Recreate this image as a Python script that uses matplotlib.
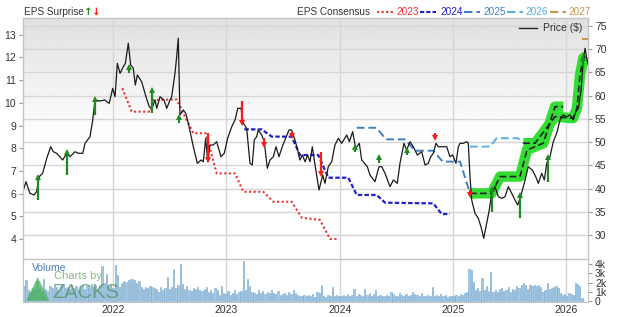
import numpy as np
import matplotlib
matplotlib.use("Agg")
import matplotlib.pyplot as plt
from matplotlib.lines import Line2D

plt.rcParams['font.family'] = ['Liberation Sans', 'DejaVu Sans']

# --- DATA (dates as decimal years) ---
price_dates = [2021.214, 2021.232, 2021.267, 2021.303, 2021.326, 2021.349, 2021.379, 2021.415,
               2021.450, 2021.473, 2021.503, 2021.556, 2021.591, 2021.620, 2021.665, 2021.694,
               2021.733, 2021.753, 2021.797, 2021.821, 2021.841, 2021.885, 2021.929, 2021.950,
               2021.967, 2021.997, 2022.018, 2022.038, 2022.062, 2022.091, 2022.109, 2022.135,
               2022.156, 2022.179, 2022.197, 2022.215, 2022.253, 2022.291, 2022.320, 2022.344,
               2022.371, 2022.386, 2022.415, 2022.450, 2022.474, 2022.503, 2022.518, 2022.547,
               2022.562, 2022.576, 2022.591, 2022.620, 2022.642, 2022.665, 2022.709, 2022.744,
               2022.777, 2022.797, 2022.818, 2022.836, 2022.856, 2022.885, 2022.915, 2022.953,
               2022.982, 2023.012, 2023.048, 2023.077, 2023.101, 2023.130, 2023.150, 2023.180,
               2023.209, 2023.229, 2023.247, 2023.268, 2023.282, 2023.312, 2023.335, 2023.362,
               2023.386, 2023.415, 2023.439, 2023.465, 2023.494, 2023.524, 2023.553, 2023.577,
               2023.606, 2023.630, 2023.650, 2023.671, 2023.695, 2023.718, 2023.739, 2023.759,
               2023.783, 2023.818, 2023.851, 2023.871, 2023.900, 2023.930, 2023.959, 2023.989,
               2024.018, 2024.063, 2024.086, 2024.115, 2024.142, 2024.174, 2024.195, 2024.245,
               2024.268, 2024.312, 2024.348, 2024.372, 2024.401, 2024.445, 2024.474, 2024.509,
               2024.533, 2024.568, 2024.592, 2024.621, 2024.651, 2024.686, 2024.725, 2024.754,
               2024.783, 2024.804, 2024.827, 2024.851, 2024.871, 2024.945, 2024.974, 2024.998,
               2025.027, 2025.048, 2025.063, 2025.092, 2025.122, 2025.136, 2025.151, 2025.166,
               2025.195, 2025.224, 2025.248, 2025.272, 2025.298, 2025.321, 2025.342, 2025.371,
               2025.401, 2025.431, 2025.460, 2025.489, 2025.519, 2025.548, 2025.572, 2025.601,
               2025.630, 2025.665, 2025.701, 2025.731, 2025.754, 2025.784, 2025.807, 2025.828,
               2025.857, 2025.886, 2025.916, 2025.945, 2025.974, 2026.004, 2026.033, 2026.063,
               2026.084, 2026.107, 2026.131, 2026.151, 2026.166, 2026.181, 2026.195]
price_vals = [40.08, 41.50, 39.01, 38.65, 39.36, 42.58, 43.30, 46.52,
              49.01, 47.94, 47.60, 46.16, 47.60, 46.87, 47.94, 47.60,
              47.60, 49.74, 51.16, 54.74, 59.04, 58.82, 59.04, 58.54,
              58.33, 61.54, 59.74, 66.91, 64.76, 66.18, 66.91, 71.20,
              66.55, 65.84, 62.25, 64.40, 62.96, 59.74, 57.60, 57.25,
              59.04, 57.25, 59.74, 59.04, 57.25, 59.04, 59.74, 64.76,
              68.33, 72.28, 55.82, 56.89, 56.18, 54.03, 49.01, 45.45,
              46.16, 45.79, 50.81, 45.79, 49.38, 49.38, 50.09, 46.87,
              47.60, 50.82, 53.30, 54.74, 57.25, 57.25, 54.03, 52.96,
              45.45, 45.09, 50.45, 51.16, 52.59, 51.52, 50.09, 44.38,
              46.16, 46.87, 49.01, 46.87, 49.01, 50.81, 52.59, 52.59,
              50.45, 48.30, 46.16, 47.23, 45.79, 47.23, 45.79, 49.01,
              45.09, 39.72, 42.94, 41.16, 44.72, 45.79, 49.38, 50.81,
              49.74, 51.52, 50.09, 52.23, 48.67, 49.74, 46.16, 44.72,
              42.94, 41.50, 44.72, 44.72, 43.30, 40.43, 41.87, 41.16,
              45.45, 49.74, 48.30, 50.09, 49.01, 47.23, 47.94, 45.09,
              45.45, 46.87, 47.60, 49.74, 49.01, 49.01, 46.87, 47.23,
              45.45, 49.01, 49.74, 49.74, 50.09, 49.74, 42.58, 37.57,
              34.72, 33.65, 31.85, 29.36, 32.58, 35.43, 39.01, 40.43,
              38.28, 37.94, 38.28, 40.43, 39.01, 37.57, 36.50, 38.65,
              41.16, 44.72, 44.01, 42.58, 41.16, 43.30, 41.87, 45.45,
              46.87, 50.09, 51.89, 54.74, 55.82, 55.45, 55.82, 54.74,
              56.52, 57.25, 61.18, 67.62, 70.13, 67.98, 66.55]

eps23_dates = [2022.082, 2022.165, 2022.333, 2022.356, 2022.562, 2022.635, 2022.709, 2022.818,
               2022.915, 2023.077, 2023.150, 2023.327, 2023.415, 2023.577, 2023.665, 2023.827,
               2023.915, 2023.974]
eps23_vals = [10.64, 9.61, 9.61, 10.12, 10.15, 9.39, 8.66, 8.66,
              6.89, 6.89, 6.08, 6.08, 5.64, 5.64, 4.94, 4.84, 4.00, 4.00]

eps24_dates = [2023.159, 2023.312, 2023.401, 2023.577, 2023.650, 2023.812, 2023.900, 2024.077,
               2024.151, 2024.327, 2024.401, 2024.827, 2024.901, 2024.974]
eps24_vals = [8.83, 8.83, 8.51, 8.51, 7.70, 7.70, 6.70, 6.70, 5.94, 5.94, 5.60, 5.57, 5.10, 5.10]

eps25_dates = [2024.151, 2024.327, 2024.409, 2024.577, 2024.665, 2024.827, 2024.910, 2025.063,
               2025.151, 2025.342, 2025.416, 2025.592, 2025.654, 2025.798, 2025.901, 2025.974]
eps25_vals = [8.90, 8.90, 8.39, 8.39, 7.89, 7.89, 7.41, 7.41,
              6.01, 6.01, 6.75, 6.75, 7.92, 8.22, 9.83, 9.83]

eps26_dates = [2025.151, 2025.327, 2025.386, 2025.577, 2025.621, 2025.725, 2025.813, 2025.901,
               2026.060, 2026.095, 2026.122, 2026.151, 2026.175]
eps26_vals = [8.07, 8.07, 8.44, 8.44, 8.22, 8.22, 8.80, 9.39, 9.32, 9.76, 11.23, 11.97, 12.06]

eps27_dates = [2026.151, 2026.195]
eps27_vals = [12.81, 12.81]

# EPS surprise arrows (price scale): start and end of each arrow
surp_dates = [2021.341, 2021.591, 2021.841, 2022.144, 2022.341, 2022.585, 2022.836, 2023.141,
              2023.333, 2023.582, 2023.833, 2024.136, 2024.348, 2024.592, 2024.842, 2025.151,
              2025.348, 2025.592, 2025.842, 2026.151]
surp_from = [37.57, 42.94, 55.82, 64.89, 56.18, 54.16, 51.95, 58.82,
             50.82, 52.23, 47.94, 47.94, 45.45, 47.23, 51.89, 39.72,
             35.07, 33.65, 41.50, 66.18]
surp_to = [42.58, 47.94, 59.25, 66.18, 61.18, 55.45, 46.16, 54.03,
           49.38, 51.31, 43.16, 49.01, 46.87, 48.30, 50.82, 38.65,
           39.87, 38.65, 46.87, 67.98]

# weekly volume (thousands), starting week of 2021.214
volumes = [1.6, 2.3, 1.2, 1.0, 1.4, 1.3, 2.2, 1.5, 1.1, 2.4,
           1.3, 1.1, 1.6, 1.4, 1.8, 1.5, 1.2, 1.6, 1.9, 1.4,
           1.5, 1.3, 1.7, 1.4, 1.6, 1.2, 1.5, 1.8, 1.3, 1.6,
           1.4, 1.9, 1.5, 1.7, 1.3, 1.8, 3.8, 2.0, 2.9, 1.6,
           1.7, 1.4, 3.9, 2.8, 1.5, 2.0, 2.2, 2.1, 2.3, 2.4,
           2.4, 2.3, 2.0, 2.2, 1.5, 1.3, 1.5, 1.4, 1.6, 1.5,
           1.4, 1.3, 1.0, 1.5, 1.2, 1.4, 2.6, 1.3, 1.5, 3.5,
           1.4, 1.8, 4.0, 1.9, 1.3, 1.6, 1.2, 1.1, 1.4, 1.3,
           1.5, 1.2, 1.1, 1.3, 1.5, 1.0, 1.2, 0.9, 1.4, 1.2,
           0.7, 1.6, 0.9, 0.8, 1.1, 0.7, 0.9, 1.2, 0.8, 1.0,
           1.1, 4.3, 1.2, 2.4, 1.6, 1.0, 0.9, 0.8, 1.2, 0.9,
           1.1, 0.8, 1.0, 0.9, 1.2, 0.9, 0.8, 1.1, 0.7, 0.8,
           0.9, 0.7, 1.0, 0.8, 1.2, 0.9, 0.7,
           0.5, 0.6, 0.7, 0.5, 0.7, 0.6, 0.8, 0.4, 1.0, 0.9,
           1.8, 0.6, 0.4, 0.7, 0.6, 1.5, 0.5, 0.7, 0.6, 0.5,
           0.7, 0.6, 0.8, 0.6, 0.7, 1.3, 0.6, 0.8, 0.7, 0.6,
           1.3, 0.7, 0.9, 0.6, 0.8, 1.2, 0.6, 0.7, 0.5, 0.6,
           0.7, 0.6, 1.0, 0.8, 0.6, 0.5, 0.9, 0.7, 0.6, 0.8,
           0.5, 0.7, 1.0, 0.8, 0.7, 0.6, 0.9, 0.5, 0.6, 0.7,
           0.6, 1.5, 0.6, 0.7, 0.5, 0.8, 0.6, 0.7, 0.4, 0.5,
           0.6, 0.5, 0.7, 0.6, 0.8, 0.7, 0.9, 1.0, 3.5, 3.4,
           2.1, 1.2, 1.4, 1.1, 2.5, 1.2, 1.6, 1.1, 3.2, 1.0,
           1.2, 1.0, 1.3, 1.4, 1.1, 1.2, 1.5, 1.0, 1.3, 1.2,
           1.6, 1.4, 1.7, 2.0, 1.8, 1.3, 1.8, 1.6, 1.7, 1.6,
           1.7, 1.5, 1.0, 1.2, 2.0, 1.3, 1.4, 1.5, 1.6, 1.4,
           0.9, 0.7, 0.8, 0.6, 0.9, 0.8, 0.7, 2.0, 1.9, 1.6,
           0.3]
vol_start = 2021.214

years = [2022, 2023, 2024, 2025, 2026]
eps_ticks = [4, 5, 6, 7, 8, 9, 10, 11, 12, 13]
price_ticks = [30, 35, 40, 45, 50, 55, 60, 65, 70, 75]
vol_ticks = [0, 1, 2, 3, 4]
vol_labels = ['0', '1k', '2k', '3k', '4k']

# --- PLOTTING ---
W, H = 620, 317
fx = lambda px: px / W
fy = lambda py: 1 - py / H

fig = plt.figure(figsize=(6.2, 3.17), dpi=100)
L, R = fx(23), fx(588)
ax_p = fig.add_axes([L, fy(259), R - L, (259 - 18) / H])
ax_v = fig.add_axes([L, fy(302), R - L, (302 - 259) / H], sharex=ax_p)
ax_e = ax_p.twinx()
ax_t = ax_e.twinx()

XLIM = (2021.2056, 2026.1924)
PLIM = (24.92, 76.63)
ELIM = (3.119, 13.736)

grid_c = '#d6d6d6'
spine_c = '#c4c4c4'
text_c = '#333333'

# background gradient (gray at the top fading to white)
yy = np.linspace(0, 1, 200).reshape(-1, 1)
shade = 1 - 0.12 * np.clip((yy - 0.5) / 0.5, 0, 1)
ax_p.imshow(shade, cmap='gray', vmin=0, vmax=1, extent=[0, 1, 0, 1],
            transform=ax_p.transAxes, aspect='auto', origin='lower', zorder=0)

ax_p.set_xlim(*XLIM)
ax_p.set_ylim(*PLIM)
ax_p.set_yticks(price_ticks)
ax_p.set_xticks(years)
ax_p.grid(True, color=grid_c, lw=1.0)
ax_p.yaxis.tick_right()
ax_p.tick_params(axis='y', labelsize=7.5, colors=text_c, length=3, color='#999999', pad=2)
ax_p.tick_params(axis='x', labelbottom=False, length=0)

ax_e.set_ylim(*ELIM)
ax_e.yaxis.tick_left()
ax_e.set_yticks(eps_ticks)
ax_e.tick_params(axis='y', labelsize=7.5, colors=text_c, length=3, color='#999999', pad=2)

# consensus lines
ax_e.plot(eps23_dates, eps23_vals, color='#f03030', lw=1.5, ls=(0, (1, 1.2)))
ax_e.plot(eps24_dates, eps24_vals, color='#2020cc', lw=1.6, ls=(0, (2, 1)))

d25 = np.array(eps25_dates); v25 = np.array(eps25_vals)
d26 = np.array(eps26_dates); v26 = np.array(eps26_vals)
m25 = d25 >= 2025.151
m26 = d26 >= 2025.621
ax_e.plot(d25[d25 <= 2025.151], v25[d25 <= 2025.151], color='#3f7fc4', lw=1.4, ls=(0, (4, 2)))
ax_e.plot(d26[d26 <= 2025.621], v26[d26 <= 2025.621], color='#5aaee0', lw=1.4, ls=(0, (4, 2)))
band_c = '#33dd33'
ax_e.plot(d25[m25], v25[m25], color=band_c, lw=7.5, solid_capstyle='butt', solid_joinstyle='round')
ax_e.plot(d26[m26], v26[m26], color=band_c, lw=7.5, solid_capstyle='butt', solid_joinstyle='round')
ax_e.plot(d25[m25], v25[m25], color='#222222', lw=1.2, ls=(0, (4, 2)))
ax_e.plot(d26[m26], v26[m26], color='#222222', lw=1.2, ls=(0, (4, 2)))
ax_e.plot(eps27_dates, eps27_vals, color='#c8964e', lw=1.4)

# price and surprises
ax_t.set_ylim(*PLIM)
ax_t.set_yticks([])
ax_t.plot(price_dates, price_vals, color='#1a1a1a', lw=0.9)
for d, a, b in zip(surp_dates, surp_from, surp_to):
    c = '#1f8a1f' if b > a else '#ff1a1a'
    ax_t.plot([d, d], [a, b], color=c, lw=1.6, solid_capstyle='butt')
    ax_t.plot([d], [b], marker='^' if b > a else 'v', color=c, ms=5, mew=0)

leg = ax_t.legend(handles=[Line2D([], [], color='#222222', lw=1)], labels=['Price ($)'],
                  loc='upper right', frameon=False, fontsize=7.5, handlelength=1.7,
                  borderaxespad=0.1, handletextpad=0.6)
for t in leg.get_texts():
    t.set_color(text_c)

for a in (ax_p, ax_e, ax_t, ax_v):
    for s in a.spines.values():
        s.set_color(spine_c)

# volume panel
vol_dates = vol_start + np.arange(len(volumes)) * 7 / 365.25
ax_v.bar(vol_dates, volumes, width=0.011, color='#a8cbe4', edgecolor='#6ea3cc', linewidth=0.4)
ax_v.set_ylim(-0.1, 4.57)
ax_v.set_xlim(*XLIM)
ax_v.yaxis.tick_right()
ax_v.set_yticks(vol_ticks)
ax_v.set_yticklabels(vol_labels)
ax_v.set_xticks(years)
ax_v.set_xticklabels([str(y) for y in years])
ax_v.grid(True, axis='x', color=grid_c, lw=1.0)
ax_v.set_axisbelow(True)
ax_v.tick_params(axis='y', labelsize=7.5, colors=text_c, length=3, color='#999999', pad=2)
ax_v.tick_params(axis='x', labelsize=7.5, colors=text_c, length=0, pad=2)

fig.text(fx(32), fy(268), 'Volume', color='#4a7fb8', fontsize=7.5, va='center')
fig.text(fx(26), fy(289), '\u25b2', color='#3fae4f', alpha=0.7, fontsize=22,
         va='center', family='DejaVu Sans')
fig.text(fx(54), fy(276), 'Charts by', color='#6aae6a', alpha=0.8, fontsize=8, va='center')
fig.text(fx(52), fy(292), 'ZACKS', color='#4f9466', alpha=0.75, fontsize=14.5, va='center')

# header legends
hfs = 7.2
fig.text(fx(24), fy(12), 'EPS Surprise', fontsize=hfs, color=text_c, va='center')
fig.text(fx(84), fy(12), '\u2191', fontsize=7.5, color='#1f8a1f', va='center',
         fontweight='bold', family='DejaVu Sans')
fig.text(fx(92), fy(12), '\u2193', fontsize=7.5, color='#ff1a1a', va='center',
         fontweight='bold', family='DejaVu Sans')
fig.text(fx(297), fy(12), 'EPS Consensus', fontsize=hfs, color=text_c, va='center')

hdr = [(377, '#f03030', (0, (1, 1.2)), '2023', 396),
       (420, '#2020cc', (0, (2, 1)), '2024', 440),
       (464, '#3f7fc4', (0, (4, 2)), '2025', 483),
       (507, '#5aaee0', (0, (4, 2)), '2026', 525),
       (550, '#c8964e', (0, (4, 2)), '2027', 568)]
for x0, c, ls, lab, tx in hdr:
    fig.add_artist(Line2D([fx(x0), fx(x0 + 16)], [fy(12), fy(12)], color=c, lw=1.5, ls=ls,
                          transform=fig.transFigure))
    fig.text(fx(tx), fy(12), lab, fontsize=hfs, color=c, va='center')

fig.savefig('out.png', dpi=100)
